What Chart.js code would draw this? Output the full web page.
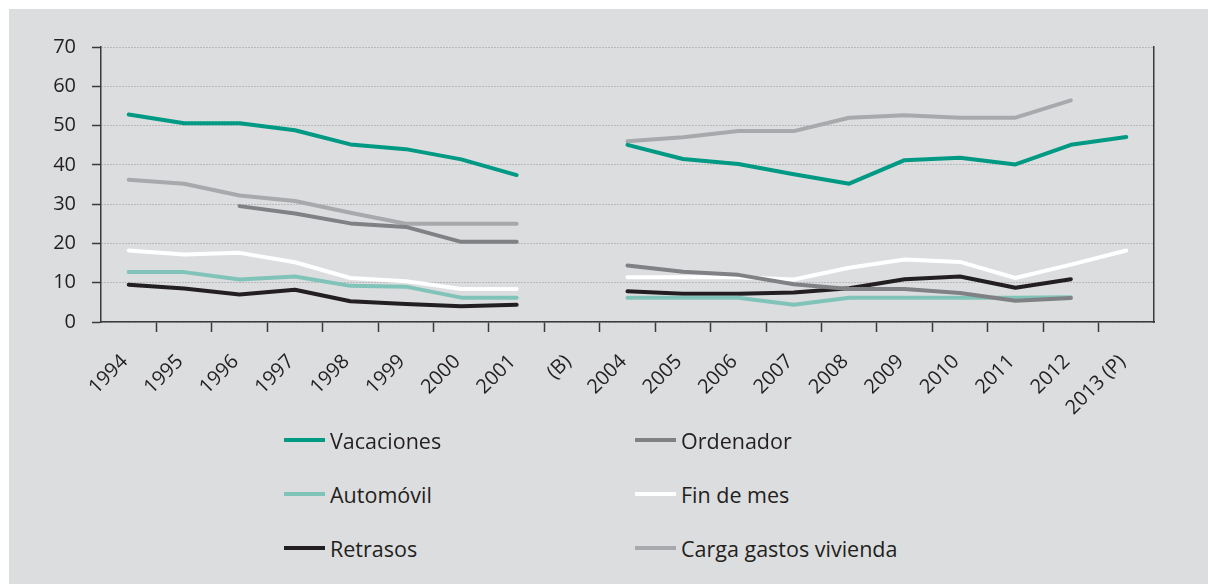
<!DOCTYPE html>
<html>
<head>
<meta charset="utf-8">
<script src="https://cdn.jsdelivr.net/npm/chart.js@4/dist/chart.umd.min.js"></script>
<style>
html, body { margin: 0; padding: 0; background: #fff; }
#panel { position: absolute; left: 9px; top: 9px; width: 1199px; height: 575px; background: #dcdddf; }
#chartBox { position: absolute; left: 0; top: 0; width: 1199px; height: 420px; }
#legend { position: absolute; left: 0; top: 0; font-family: "Open Sans", sans-serif; font-size: 21.5px; color: #231f20; }
.item { position: absolute; height: 28px; display: flex; align-items: center; white-space: nowrap; }
.swatch { width: 41px; height: 4px; margin-right: 5px; }
</style>
</head>
<body>
<div id="panel">
  <div id="chartBox"><canvas id="myChart"></canvas></div>
  <div id="legend"></div>
</div>
<script>
// years on the x axis, (B) is the break with no data
const years = ["1994", "1995", "1996", "1997", "1998", "1999", "2000", "2001", "(B)",
  "2004", "2005", "2006", "2007", "2008", "2009", "2010", "2011", "2012", "2013 (P)"];

const vacaciones = [52.8, 50.6, 50.6, 48.8, 45.2, 44.0, 41.4, 37.4, null, 45.1, 41.5, 40.2, 37.6, 35.2, 41.2, 41.8, 40.1, 45.1, 47.1];
const ordenador = [null, null, 29.5, 27.6, 25.1, 24.2, 20.4, 20.4, null, 14.4, 12.8, 12.0, 9.6, 8.4, 8.4, 7.4, 5.4, 6.1, null];
const automovil = [12.7, 12.7, 10.8, 11.6, 9.2, 9.0, 6.2, 6.2, null, 6.2, 6.2, 6.2, 4.4, 6.2, 6.2, 6.2, 6.2, 6.3, null];
const finDeMes = [18.2, 17.2, 17.6, 15.2, 11.2, 10.4, 8.4, 8.4, null, 11.4, 11.4, 11.4, 10.8, 13.8, 15.9, 15.3, 11.2, 14.6, 18.2];
const retrasos = [9.5, 8.5, 7.0, 8.2, 5.3, 4.6, 4.0, 4.4, null, 7.8, 7.2, 7.2, 7.5, 8.6, 10.9, 11.6, 8.7, 10.9, null];
const cargaVivienda = [36.2, 35.2, 32.2, 30.8, 27.8, 25.0, 25.0, 25.0, null, 46.0, 47.0, 48.6, 48.6, 52.0, 52.6, 52.0, 52.0, 56.4, null];

const seriesNames = ["Vacaciones", "Ordenador", "Automóvil", "Fin de mes", "Retrasos", "Carga gastos vivienda"];
const seriesData = [vacaciones, ordenador, automovil, finDeMes, retrasos, cargaVivienda];
const seriesColors = ["#009a84", "#808184", "#80c3b8", "#ffffff", "#231f20", "#a7a9ac"];

const yTicks = [0, 10, 20, 30, 40, 50, 60, 70];

const textColor = "#231f20";
const tickFont = { family: "Open Sans", size: 20 };

const datasets = seriesNames.map((name, i) => ({
  label: name,
  data: seriesData[i],
  borderColor: seriesColors[i],
  backgroundColor: seriesColors[i],
  borderWidth: 4,
  pointRadius: 0,
  tension: 0,
  spanGaps: false,
  borderCapStyle: "round",
  borderJoinStyle: "round",
}));

const ctx = document.getElementById("myChart").getContext("2d");
const chart = new Chart(ctx, {
  type: "line",
  data: { labels: years, datasets: datasets },
  options: {
    responsive: true,
    maintainAspectRatio: false,
    animation: false,
    layout: { padding: { top: 38, left: 0, right: 0, bottom: 0 } },
    plugins: {
      legend: { display: false },
      tooltip: { enabled: false },
    },
    scales: {
      x: {
        offset: true,
        grid: {
          offset: true,
          drawOnChartArea: false,
          tickLength: 10,
          tickWidth: 1.5,
          tickColor: (c) => (c.index === 0 || c.index === undefined ? "rgba(0,0,0,0)" : "#3a3a3a"),
        },
        border: { color: "#3a3a3a", width: 1.5 },
        ticks: {
          color: textColor,
          font: tickFont,
          minRotation: 45,
          maxRotation: 45,
          autoSkip: false,
          labelOffset: -4,
          padding: 18,
        },
        afterFit: (scale) => { scale.height = 107; },
      },
      y: {
        min: 0,
        max: 70,
        afterBuildTicks: (scale) => { scale.ticks = yTicks.map((v) => ({ value: v })); },
        grid: {
          color: "#939496",
          lineWidth: 1,
          tickLength: 9,
          tickColor: "#3a3a3a",
          tickWidth: 1.5,
          tickBorderDash: [],
        },
        border: { color: "#3a3a3a", width: 1.5, dash: [1, 2] },
        ticks: { color: textColor, font: tickFont, padding: 16 },
        afterFit: (scale) => { scale.width = 92; },
      },
      y2: {
        position: "right",
        min: 0,
        max: 70,
        grid: { drawOnChartArea: false, drawTicks: false },
        border: { color: "#3a3a3a", width: 1.5 },
        ticks: { display: false },
        afterFit: (scale) => { scale.width = 54; },
      },
    },
  },
});

// legend, two columns and three rows
const legend = document.getElementById("legend");
const colLeft = [275, 626];
const rowTop = [417, 471, 525];
seriesNames.forEach((name, i) => {
  const item = document.createElement("div");
  item.className = "item";
  item.style.left = colLeft[i % 2] + "px";
  item.style.top = rowTop[Math.floor(i / 2)] + "px";
  const sw = document.createElement("span");
  sw.className = "swatch";
  sw.style.background = seriesColors[i];
  const txt = document.createElement("span");
  txt.textContent = name;
  item.appendChild(sw);
  item.appendChild(txt);
  legend.appendChild(item);
});
</script>
</body>
</html>
